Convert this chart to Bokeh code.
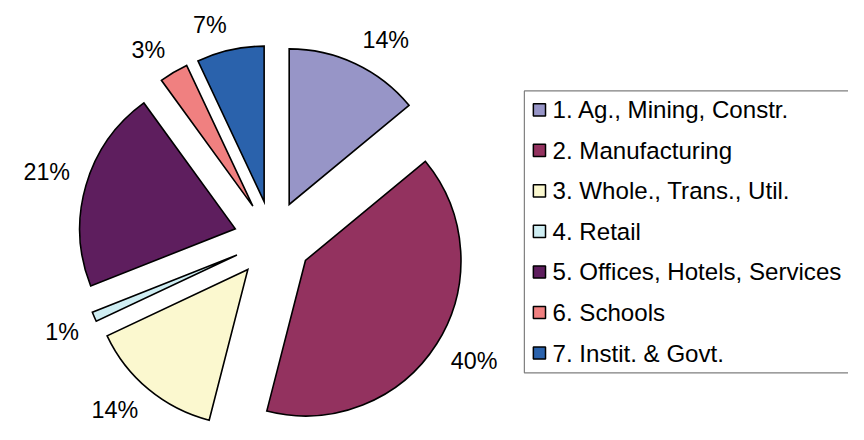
import numpy as np
from bokeh.plotting import figure
from bokeh.models import Range1d, ColumnDataSource
from bokeh.core.properties import value
from bokeh.embed import file_html
from bokeh.resources import INLINE

# ---- data ----
categories = ["1. Ag., Mining, Constr.", "2. Manufacturing", "3. Whole., Trans., Util.",
              "4. Retail", "5. Offices, Hotels, Services", "6. Schools", "7. Instit. & Govt."]
shares = [14, 40, 14, 1, 21, 3, 7]
pct_labels = ["14%", "40%", "14%", "1%", "21%", "3%", "7%"]
colors = ["#9795C7", "#93325F", "#FBF8CF", "#CFEEF3", "#5E1E5E", "#F08080", "#2A62AC"]

# ---- layout (data units ~ reference pixels, y up) ----
S = 0.972                      # screen px per data unit
W, H = 848, 424
X0 = 450.0                     # horizontal scaling anchor
CX, CY = 267.0, -246.0
R = 160.0
EXPLODE = 40.0
LABEL_GAP = 217.0
LAB_FS = 24.0
LEG_FS = 24.8
FONT = "Liberation Sans"

frac = np.array(shares, dtype=float) / float(sum(shares))
c1 = np.cumsum(frac)
c0 = c1 - frac
mid = 2 * np.pi * (c0 + c1) / 2.0          # clockwise from 12 o'clock
sn, cs = np.sin(mid), np.cos(mid)

pie = ColumnDataSource(dict(
    x=CX + EXPLODE * sn,
    y=CY + EXPLODE * cs,
    start=np.pi / 2 - 2 * np.pi * c0,
    end=np.pi / 2 - 2 * np.pi * c1,
    color=colors,
))

# label: nearest corner of the text box sits on the mid-angle ray
def text_w(t):
    return sum(0.889 if ch == "%" else 0.556 for ch in t) * LAB_FS

hw = np.array([text_w(t) / 2 for t in pct_labels])
hh = 0.358 * LAB_FS
lab = ColumnDataSource(dict(
    x=CX + LABEL_GAP * sn + np.sign(sn) * hw,
    y=CY + LABEL_GAP * cs + np.sign(cs) * hh,
    text=pct_labels,
))

x_start = X0 - X0 / S
p = figure(width=W, height=H, output_backend="svg", toolbar_location=None,
           x_range=Range1d(x_start, x_start + W / S),
           y_range=Range1d(-H / S, 0),
           min_border=0, outline_line_color=None)
p.axis.visible = False
p.grid.visible = False
p.background_fill_color = "white"
p.border_fill_color = "white"

p.wedge(x="x", y="y", radius=R, start_angle="start", end_angle="end",
        direction="clock", fill_color="color", line_color="black",
        line_width=1.6, line_join="miter", source=pie)

p.text(x="x", y="y", text="text", source=lab, text_font=value(FONT),
       text_font_size=f"{LAB_FS * S:.1f}px", text_align="center",
       text_baseline="middle", text_color="black")

# ---- legend ----
n = len(categories)
row0, step = -112.5, -41.7
rows = row0 + step * np.arange(n)
box_top, box_bottom, box_left = -93.0, -383.0, 526.0
p.quad(left=[box_left], right=[box_left + 440], top=[box_top], bottom=[box_bottom],
       fill_color=None, line_color="#7F7F7F", line_width=1.2)
leg = ColumnDataSource(dict(y=rows, color=colors, text=categories))
p.rect(x=541.5, y="y", width=12.5, height=12.5, fill_color="color",
       line_color="black", line_width=1.5, source=leg)
p.text(x=555, y="y", text="text", source=leg, text_font=value(FONT),
       text_font_size=f"{LEG_FS * S:.1f}px", text_align="left",
       text_baseline="middle", text_color="black")

open("out.html", "w").write(file_html(p, INLINE))
